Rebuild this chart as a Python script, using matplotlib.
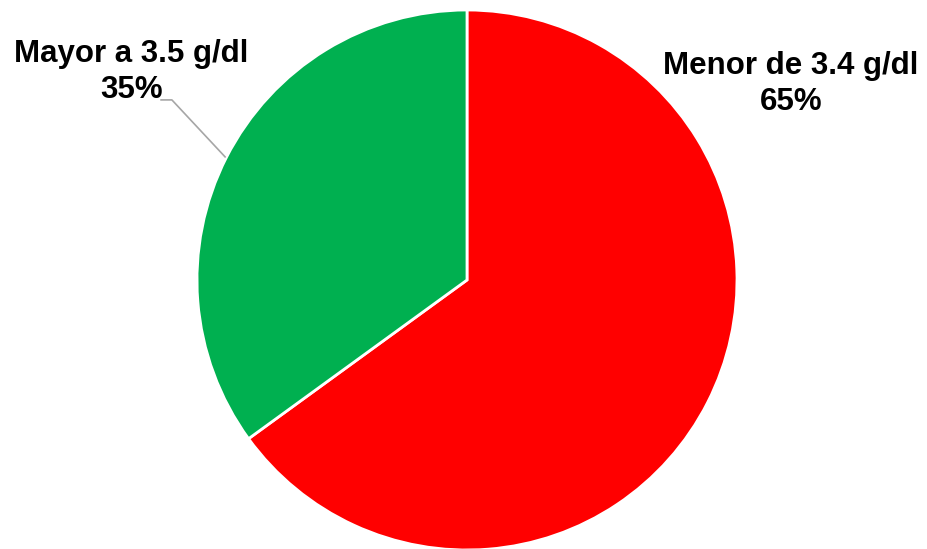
import matplotlib
matplotlib.use("Agg")
import matplotlib.pyplot as plt

# albumin groups
labels = ["Menor de 3.4 g/dl", "Mayor a 3.5 g/dl"]
shares = [65, 35]
colors = ["#FF0000", "#00B050"]

fig = plt.figure(figsize=(9.27, 5.49), dpi=100)
ax = fig.add_axes([0, 0, 1, 1])
ax.pie(shares, colors=colors, startangle=90, counterclock=False, radius=1.0,
       wedgeprops=dict(edgecolor="white", linewidth=2))
# 270 px per data unit, pie centre at (467, 280) px
ax.set_xlim(-467 / 270, 460 / 270)
ax.set_ylim(-269 / 270, 280 / 270)
ax.set_aspect("auto")
ax.axis("off")

font = dict(fontsize=22.5, fontweight="bold", family=["Liberation Sans", "DejaVu Sans"],
            ha="center", va="center", linespacing=1.25)
ax.text(1.2, 0.725, f"{labels[0]}\n{shares[0]}%", **font)
ax.text(-1.244, 0.77, f"{labels[1]}\n{shares[1]}%", **font)

# leader line for the small slice
ax.plot([-0.896, -1.093, -1.133], [0.456, 0.667, 0.667], color="#A6A6A6", lw=1.2)

fig.savefig("out.png", dpi=100)
